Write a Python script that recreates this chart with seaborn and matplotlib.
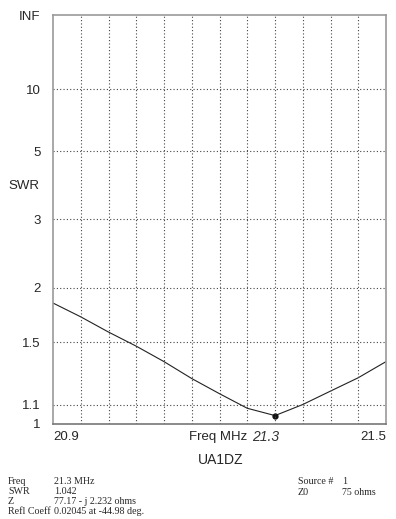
import numpy as np
import pandas as pd
import seaborn as sns
import matplotlib
matplotlib.use('Agg')
import matplotlib.pyplot as plt

#####################################################
## data read off the SWR sweep
freq = [20.9, 20.95, 21.0, 21.05, 21.1, 21.15, 21.2, 21.25, 21.3, 21.35, 21.4, 21.45, 21.5]
swr = [1.84, 1.71, 1.58, 1.47, 1.36, 1.25, 1.16, 1.08, 1.042, 1.10, 1.175, 1.255, 1.36]

marker_freq = [21.3]
marker_swr = [1.042]

swr_ticks = [1, 1.1, 1.5, 2, 3, 5, 10, 1e12]
swr_tick_labels = ['1', '1.1', '1.5', '2', '3', '5', '10', 'INF']
freq_ticks = [20.9 + 0.05 * i for i in range(13)]

info_left = [('Freq', '21.3 MHz'), ('SWR', '1.042'),
             ('Z', '77.17 - j 2.232 ohms'), ('Refl Coeff', '0.02045 at -44.98 deg.')]
info_right = [('Source #', '1'), ('Z0', '75 ohms')]
#####################################################

sns.set_style('white')
plt.rcParams['font.family'] = ['Liberation Sans', 'DejaVu Sans']

df = pd.DataFrame({'freq': freq, 'swr': swr})


# SWR axis is linear in reflection coefficient
def to_gamma(s):
    s = np.asarray(s, dtype=float)
    return (s - 1) / (s + 1)


def from_gamma(g):
    g = np.clip(np.asarray(g, dtype=float), -0.999, 0.999999999)
    return (1 + g) / (1 - g)


fig = plt.figure(figsize=(3.96, 5.19), dpi=100)
ax = fig.add_axes([53 / 396, 1 - 424 / 519, 333 / 396, 409 / 519])
ax.set_yscale('function', functions=(to_gamma, from_gamma))

sns.lineplot(data=df, x='freq', y='swr', ax=ax, color='#222222', linewidth=0.8)
ax.plot(marker_freq, marker_swr, 'o', color='#111111', markersize=3.5)

ax.set_xlim(20.9, 21.5)
ax.set_ylim(1, 1e12)
ax.set_yticks(swr_ticks)
ax.set_yticklabels(swr_tick_labels, fontsize=9.5)
ax.yaxis.set_minor_locator(matplotlib.ticker.NullLocator())
ax.set_xticks(freq_ticks)
ax.set_xticklabels([])
ax.tick_params(axis='both', length=0, pad=9)
ax.set_xlabel('')
ax.set_ylabel('')

for f in freq_ticks[1:-1]:
    ax.axvline(f, color='#444444', linestyle=(0, (1, 2)), linewidth=0.8)
for s in swr_ticks[1:-1]:
    ax.axhline(s, color='#444444', linestyle=(0, (1, 2)), linewidth=0.8)

for side in ['left', 'top', 'right']:
    ax.spines[side].set_color('#999999')
    ax.spines[side].set_linewidth(1.2)
ax.spines['bottom'].set_color('#777777')
ax.spines['bottom'].set_linewidth(1.2)

# x axis labels
fig.text(53 / 396, 1 - 437 / 519, '20.9', fontsize=9.5, ha='left', va='center')
fig.text(386 / 396, 1 - 437 / 519, '21.5', fontsize=9.5, ha='right', va='center')
fig.text(218 / 396, 1 - 437 / 519, 'Freq MHz', fontsize=9.5, ha='center', va='center')
fig.text(266 / 396, 1 - 437 / 519, '21.3', fontsize=10, ha='center', va='center',
         style='italic', color='#333333', fontweight='light')
fig.text(221 / 396, 1 - 460 / 519, 'UA1DZ', fontsize=10, ha='center', va='center')
fig.text(8 / 396, 1 - 186 / 519, 'SWR', fontsize=9.5, ha='left', va='center')

# readout block
serif = ['Liberation Serif', 'DejaVu Serif']
for i, (k, v) in enumerate(info_left):
    y = 1 - (481 + 10.3 * i) / 519
    fig.text(8 / 396, y, k, fontsize=7.2, family=serif, va='center')
    fig.text(54 / 396, y, v, fontsize=7.2, family=serif, va='center')
for i, (k, v) in enumerate(info_right):
    y = 1 - (482 + 10.3 * i) / 519
    fig.text(298 / 396, y, k, fontsize=7.2, family=serif, va='center')
    fig.text(342 / 396, y, v, fontsize=7.2, family=serif, va='center')

fig.savefig('out.png', dpi=100)
